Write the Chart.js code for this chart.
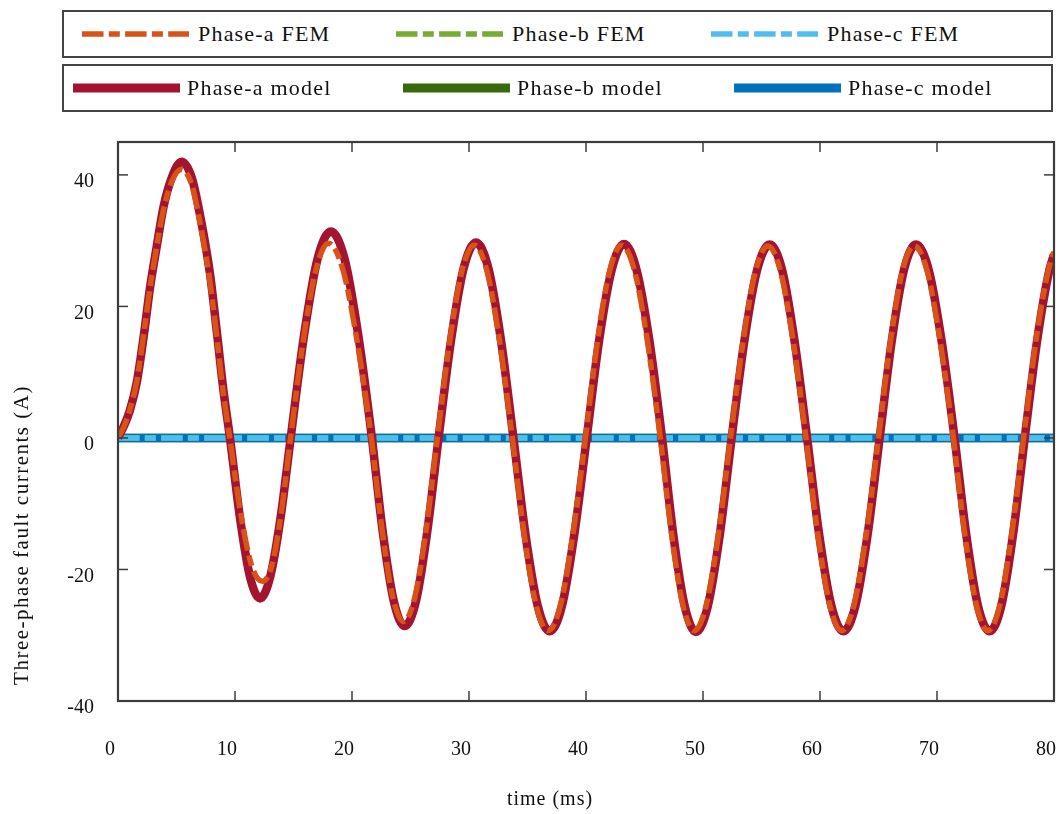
<!DOCTYPE html>
<html>
<head>
<meta charset="utf-8">
<script src="https://cdn.jsdelivr.net/npm/chart.js@4.4.1/dist/chart.umd.min.js"></script>
<style>
  body { margin: 0; background: #fff; }
  #wrap { position: relative; width: 1060px; height: 814px; }
  .legend-box {
    position: absolute; left: 62px; width: 987px; height: 44px;
    border: 2px solid #444; background: #fff;
  }
  .item {
    position: absolute; top: 0; height: 44px; display: flex; align-items: center;
    font-family: "Liberation Serif", serif; font-size: 22px; color: #111; letter-spacing: 1.2px;
    white-space: nowrap;
  }
</style>
</head>
<body>
<div id="wrap">
  <canvas id="faultChart" width="1060" height="814"></canvas>
  <div class="legend-box" id="legend-fem" style="top:10px"></div>
  <div class="legend-box" id="legend-model" style="top:64px"></div>
</div>
<script>
// Phase-a model (time in ms, current in A)
const tModelA = [0, 0.5, 1.0, 1.6, 2.2, 2.75, 3.3, 3.9, 4.6, 5.44, 6.3, 7.0, 7.86, 8.43, 9.0, 9.57,
  10.43, 11.28, 12.14, 13.01, 13.89, 14.76, 15.91, 17.05, 18.2, 19.37, 20.53, 21.7,
  22.63, 23.57, 24.5, 25.47, 26.43, 27.4, 28.47, 29.53, 30.6, 31.67, 32.73, 33.8,
  34.83, 35.87, 36.9, 37.95, 39.0, 40.06, 41.12, 42.19, 43.25, 44.33, 45.42, 46.5,
  47.47, 48.43, 49.4, 50.42, 51.43, 52.45, 53.53, 54.62, 55.7, 56.77, 57.83, 58.9,
  59.93, 60.97, 62.0, 63.03, 64.07, 65.1, 66.13, 67.17, 68.2, 69.3, 70.4, 71.5,
  72.5, 73.5, 74.5, 75.5, 76.5, 77.5, 78.55, 79.6, 80];
const iModelA = [0, 1.8, 4.1, 8.4, 15.5, 23.0, 29.0, 35.2, 39.6, 42.0, 39.6, 34.0, 25.0, 16.4, 7.4, 0,
  -12.2, -21.1, -24.4, -21.1, -12.2, 0, 15.7, 27.2, 31.4, 27.2, 15.7, 0,
  -14.3, -24.8, -28.6, -24.8, -14.3, 0, 14.9, 25.7, 29.7, 25.7, 14.9, 0,
  -14.7, -25.5, -29.4, -25.5, -14.7, 0, 14.8, 25.5, 29.5, 25.5, 14.8, 0,
  -14.8, -25.5, -29.5, -25.5, -14.8, 0, 14.7, 25.5, 29.4, 25.5, 14.7, 0,
  -14.7, -25.5, -29.4, -25.5, -14.7, 0, 14.7, 25.5, 29.4, 25.5, 14.7, 0,
  -14.7, -25.5, -29.4, -25.5, -14.7, 0, 14.7, 25.5, 27.9];

// Phase-a FEM
const tFemA = [0, 0.5, 1.0, 1.6, 2.2, 2.75, 3.3, 3.9, 4.6, 5.4, 6.25, 6.95, 7.8, 8.4, 8.97, 9.55,
  10.48, 11.42, 12.35, 13.15, 13.95, 14.75, 15.83, 16.92, 18.0, 19.22, 20.43, 21.65,
  22.57, 23.48, 24.4, 25.37, 26.33, 27.3, 28.35, 29.4, 30.45, 31.53, 32.62, 33.7,
  34.72, 35.73, 36.75, 37.82, 38.88, 39.95, 40.98, 42.02, 43.05, 44.15, 45.25, 46.35,
  47.32, 48.28, 49.25, 50.28, 51.32, 52.35, 53.42, 54.48, 55.55, 56.63, 57.72, 58.8,
  59.82, 60.83, 61.85, 62.9, 63.95, 65.0, 66.02, 67.03, 68.05, 69.17, 70.28, 71.4,
  72.38, 73.37, 74.35, 75.37, 76.38, 77.4, 78.45, 79.5, 80];
const iFemA = [0, 1.7, 4.2, 8.6, 15.8, 23.0, 29.0, 34.8, 39.0, 40.8, 38.8, 33.3, 24.5, 16.0, 7.2, 0,
  -11.4, -19.4, -21.8, -19.4, -11.4, 0, 14.8, 25.6, 29.6, 25.6, 14.8, 0,
  -14.0, -24.2, -27.9, -24.2, -14.0, 0, 14.7, 25.4, 29.3, 25.4, 14.7, 0,
  -14.7, -25.4, -29.3, -25.4, -14.7, 0, 14.7, 25.4, 29.3, 25.4, 14.7, 0,
  -14.7, -25.4, -29.3, -25.4, -14.7, 0, 14.6, 25.3, 29.2, 25.3, 14.6, 0,
  -14.7, -25.4, -29.3, -25.4, -14.7, 0, 14.6, 25.3, 29.2, 25.3, 14.6, 0,
  -14.7, -25.4, -29.3, -25.4, -14.7, 0, 14.7, 25.4, 28.3];

// Phase-b and phase-c stay flat at zero
const tFlat = [0, 20, 40, 60, 80];
const iModelB = [0, 0, 0, 0, 0];
const iFemB = [0, 0, 0, 0, 0];
const iModelC = [0, 0, 0, 0, 0];
const iFemC = [0, 0, 0, 0, 0];

const xTicks = [0, 10, 20, 30, 40, 50, 60, 70, 80];
const yTicks = [-40, -20, 0, 20, 40];
const xTitle = 'time (ms)';
const yTitle = 'Three-phase fault currents (A)';

const FEM_DASH = [21.5, 5.3, 11, 5.3];
const FONT = '"Liberation Serif", serif';

function toPoints(ts, vs) {
    return ts.map((t, i) => ({ x: t, y: vs[i] }));
}

function fem(label, color, ts, vs, order) {
    return { label, data: toPoints(ts, vs), borderColor: color, borderWidth: 5.5,
             borderDash: FEM_DASH, borderCapStyle: 'butt', order, isFem: true };
}

function model(label, color, ts, vs, order) {
    return { label, data: toPoints(ts, vs), borderColor: color, borderWidth: 8.5,
             borderJoinStyle: 'round', order, isFem: false };
}

const femA = fem('Phase-a FEM', '#D95319', tFemA, iFemA, 1);
const femB = fem('Phase-b FEM', '#77AC30', tFlat, iFemB, 4);
const femC = fem('Phase-c FEM', '#4DBEEE', tFlat, iFemC, 3);
const modelA = model('Phase-a model', '#A2142F', tModelA, iModelA, 2);
const modelB = model('Phase-b model', '#386A0B', tFlat, iModelB, 6);
const modelC = model('Phase-c model', '#0072BD', tFlat, iModelC, 5);

// Axes frame with inward ticks on all four sides, plus the axis titles
const frameTicks = {
    id: 'frameTicks',
    afterDraw(chart) {
        const { ctx, chartArea: a, scales: { x, y } } = chart;
        const line = (x1, y1, x2, y2) => {
            ctx.beginPath(); ctx.moveTo(x1, y1); ctx.lineTo(x2, y2); ctx.stroke();
        };
        ctx.save();
        ctx.strokeStyle = '#3c3c3c';
        ctx.lineWidth = 1.5;
        x.ticks.forEach(t => {
            const px = x.getPixelForValue(t.value);
            line(px, a.bottom, px, a.bottom - 10);
            line(px, a.top, px, a.top + 10);
        });
        y.ticks.forEach(t => {
            const py = y.getPixelForValue(t.value);
            line(a.left, py, a.left + 10, py);
            line(a.right, py, a.right - 10, py);
        });
        ctx.lineWidth = 2.2;
        ctx.strokeRect(a.left, a.top, a.right - a.left, a.bottom - a.top);

        ctx.fillStyle = '#111';
        ctx.textAlign = 'center';
        ctx.textBaseline = 'middle';
        ctx.font = '20px ' + FONT;
        ctx.letterSpacing = '1px';
        ctx.fillText(xTitle, 550, 800);
        ctx.font = '21px ' + FONT;
        ctx.letterSpacing = '1.5px';
        ctx.translate(22, 535);
        ctx.rotate(-Math.PI / 2);
        ctx.fillText(yTitle, 0, 0);
        ctx.restore();
    }
};

new Chart(document.getElementById('faultChart'), {
    type: 'line',
    data: { datasets: [femA, modelA, femC, femB, modelC, modelB] },
    options: {
        responsive: false,
        animation: false,
        layout: { padding: { top: 142, right: 6, left: 0, bottom: 0 } },
        elements: {
            line: { cubicInterpolationMode: 'monotone' },
            point: { radius: 0, hoverRadius: 0 }
        },
        plugins: { legend: { display: false }, tooltip: { enabled: false } },
        scales: {
            x: {
                type: 'linear', min: 0, max: 80,
                afterBuildTicks: s => { s.ticks = xTicks.map(v => ({ value: v })); },
                afterFit: s => { s.height = 113; s.paddingLeft = 0; s.paddingRight = 0; },
                grid: { display: false, drawTicks: false },
                border: { display: false },
                ticks: { padding: 37, labelOffset: -8, maxRotation: 0, color: '#111', font: { family: FONT, size: 20 } }
            },
            y: {
                type: 'linear', min: -40, max: 45,
                afterBuildTicks: s => { s.ticks = yTicks.map(v => ({ value: v })); },
                afterFit: s => { s.width = 118; s.paddingTop = 0; s.paddingBottom = 0; },
                grid: { display: false, drawTicks: false },
                border: { display: false },
                ticks: { padding: 24, labelOffset: 7, color: '#111', font: { family: FONT, size: 20 } }
            }
        }
    },
    plugins: [frameTicks]
});

// HTML legend, two framed rows like the original figure
function legendMarker(ds) {
    const w = 107;
    const dash = ds.isFem ? ` stroke-dasharray="${FEM_DASH.join(' ')}"` : '';
    const sw = ds.isFem ? 5.7 : 9;
    return `<svg width="${w}" height="12"><line x1="0" y1="6" x2="${w}" y2="6" stroke="${ds.borderColor}" stroke-width="${sw}"${dash}/></svg>`;
}

function buildLegend(boxId, items, lefts, gap) {
    const box = document.getElementById(boxId);
    items.forEach((ds, i) => {
        const div = document.createElement('div');
        div.className = 'item';
        div.style.left = lefts[i] + 'px';
        div.innerHTML = legendMarker(ds) + `<span style="margin-left:${gap}px">${ds.label}</span>`;
        box.appendChild(div);
    });
}

buildLegend('legend-fem', [femA, femB, femC], [18, 332, 647], 9);
buildLegend('legend-model', [modelA, modelB, modelC], [9, 339, 670], 7);
</script>
</body>
</html>
